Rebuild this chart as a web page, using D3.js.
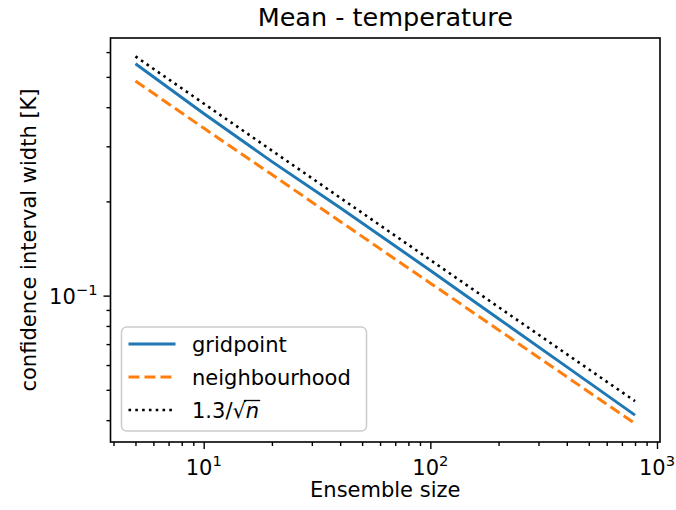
<!DOCTYPE html>
<html>
<head>
<meta charset="utf-8">
<script src="https://cdn.jsdelivr.net/npm/d3@7"></script>
<style>
  html, body { margin: 0; padding: 0; background: #fff; }
  svg { display: block; font-family: "DejaVu Sans", sans-serif; }
</style>
</head>
<body>
<svg id="chart" width="676" height="510"></svg>
<script>
// Ensemble sizes (x) and confidence interval widths in K (y)
const ensembleSizes = [5, 10, 20, 40, 100, 200, 400, 800];
const gridpoint     = [0.551, 0.382, 0.268, 0.191, 0.1203, 0.0844, 0.0592, 0.0415];
const neighbourhood = [0.485, 0.343, 0.2436, 0.1726, 0.1096, 0.0777, 0.0550, 0.0390];
// 1.3 / sqrt(n) at the same ensemble sizes
const reference     = [0.5814, 0.4111, 0.2907, 0.2055, 0.1300, 0.0919, 0.0650, 0.0460];

const xMajorTicks = [10, 100, 1000];
const xMajorExp   = ["1", "2", "3"];
const xMinorTicks = [4, 5, 6, 7, 8, 9, 20, 30, 40, 50, 60, 70, 80, 90, 200, 300, 400, 500, 600, 700, 800, 900];
const yMajorTicks = [0.1];
const yMajorExp   = ["\u22121"];
const yMinorTicks = [0.04, 0.05, 0.06, 0.07, 0.08, 0.09, 0.2, 0.3, 0.4, 0.5, 0.6];

const seriesNames = ["gridpoint", "neighbourhood"];

const svg = d3.select("#chart");
const box = { left: 110.5, right: 660, top: 38, bottom: 442 };

const x = d3.scaleLog().domain([3.88, 1031]).range([box.left, box.right]);
const y = d3.scaleLog().domain([0.03406, 0.6656]).range([box.bottom, box.top]);

const fontSize = 21;

// Lines
const line = d3.line()
  .x((d, i) => x(ensembleSizes[i]))
  .y(d => y(d));

const plot = svg.append("g");
plot.append("path").datum(reference)
  .attr("d", line).attr("fill", "none")
  .attr("stroke", "#000").attr("stroke-width", 2.6)
  .attr("stroke-dasharray", "2.6,4.2");
plot.append("path").datum(neighbourhood)
  .attr("d", line).attr("fill", "none")
  .attr("stroke", "#ff7f0e").attr("stroke-width", 3)
  .attr("stroke-dasharray", "11,5");
plot.append("path").datum(gridpoint)
  .attr("d", line).attr("fill", "none")
  .attr("stroke", "#1f77b4").attr("stroke-width", 3);

// Axes frame
svg.append("rect")
  .attr("x", box.left).attr("y", box.top)
  .attr("width", box.right - box.left).attr("height", box.bottom - box.top)
  .attr("fill", "none").attr("stroke", "#000").attr("stroke-width", 1.6);

// X axis ticks
const xAxisMajor = d3.axisBottom(x).tickValues(xMajorTicks).tickSize(7).tickFormat("");
const xAxisMinor = d3.axisBottom(x).tickValues(xMinorTicks).tickSize(4).tickFormat("");
[xAxisMajor, xAxisMinor].forEach(ax => {
  const g = svg.append("g").attr("transform", `translate(0,${box.bottom})`).call(ax);
  g.select(".domain").remove();
  g.selectAll(".tick line").attr("stroke", "#000").attr("stroke-width", 1.4);
});

// Y axis ticks
const yAxisMajor = d3.axisLeft(y).tickValues(yMajorTicks).tickSize(7).tickFormat("");
const yAxisMinor = d3.axisLeft(y).tickValues(yMinorTicks).tickSize(4).tickFormat("");
[yAxisMajor, yAxisMinor].forEach(ax => {
  const g = svg.append("g").attr("transform", `translate(${box.left},0)`).call(ax);
  g.select(".domain").remove();
  g.selectAll(".tick line").attr("stroke", "#000").attr("stroke-width", 1.4);
});

// Power-of-ten tick labels
function powerLabel(sel, exp) {
  sel.append("tspan").text("10");
  sel.append("tspan").attr("dy", -9).attr("font-size", fontSize * 0.7).text(exp);
}
xMajorTicks.forEach((v, i) => {
  svg.append("text")
    .attr("x", x(v)).attr("y", 475)
    .attr("text-anchor", "middle").attr("font-size", fontSize).attr("fill", "#000")
    .call(powerLabel, xMajorExp[i]);
});
yMajorTicks.forEach((v, i) => {
  svg.append("text")
    .attr("x", box.left - 13).attr("y", y(v) + 8)
    .attr("text-anchor", "end").attr("font-size", fontSize).attr("fill", "#000")
    .call(powerLabel, yMajorExp[i]);
});

// Titles
svg.append("text")
  .attr("x", (box.left + box.right) / 2).attr("y", 26)
  .attr("text-anchor", "middle").attr("font-size", 25.5).attr("fill", "#000")
  .text("Mean - temperature");
svg.append("text")
  .attr("x", (box.left + box.right) / 2).attr("y", 497)
  .attr("text-anchor", "middle").attr("font-size", fontSize).attr("fill", "#000")
  .text("Ensemble size");
svg.append("text")
  .attr("transform", `translate(36,${(box.top + box.bottom) / 2}) rotate(-90)`)
  .attr("text-anchor", "middle").attr("font-size", fontSize).attr("fill", "#000")
  .text("confidence interval width [K]");

// Legend
const legend = svg.append("g").attr("transform", "translate(121.5,327)");
legend.append("rect")
  .attr("width", 245).attr("height", 104).attr("rx", 5).attr("ry", 5)
  .attr("fill", "#fff").attr("fill-opacity", 0.8)
  .attr("stroke", "#cccccc").attr("stroke-width", 1.5);

const rows = [
  { name: seriesNames[0], color: "#1f77b4", dash: null, width: 3 },
  { name: seriesNames[1], color: "#ff7f0e", dash: "11,5", width: 3 },
  { name: null, color: "#000", dash: "2.6,4.2", width: 2.6 }
];
rows.forEach((r, i) => {
  const cy = 17 + i * 33;
  legend.append("line")
    .attr("x1", 7).attr("x2", 54).attr("y1", cy).attr("y2", cy)
    .attr("stroke", r.color).attr("stroke-width", r.width)
    .attr("stroke-dasharray", r.dash);
  const t = legend.append("text")
    .attr("x", 70.5).attr("y", cy + 7.5)
    .attr("font-size", fontSize).attr("fill", "#000");
  if (r.name) {
    t.text(r.name);
  } else {
    t.append("tspan").text("1.3/\u221A");
    t.append("tspan").attr("font-style", "italic").text("n");
    // vinculum over the radicand
    const node = t.node();
    const start = node.getSubStringLength(0, 4);
    const rootW = node.getSubStringLength(4, 1);
    const total = node.getComputedTextLength();
    const x0 = 70.5 + start + rootW * 0.85;
    legend.append("line")
      .attr("x1", x0).attr("x2", 70.5 + total + 1)
      .attr("y1", cy - 9.5).attr("y2", cy - 9.5)
      .attr("stroke", "#000").attr("stroke-width", 1.3);
  }
});
</script>
</body>
</html>
